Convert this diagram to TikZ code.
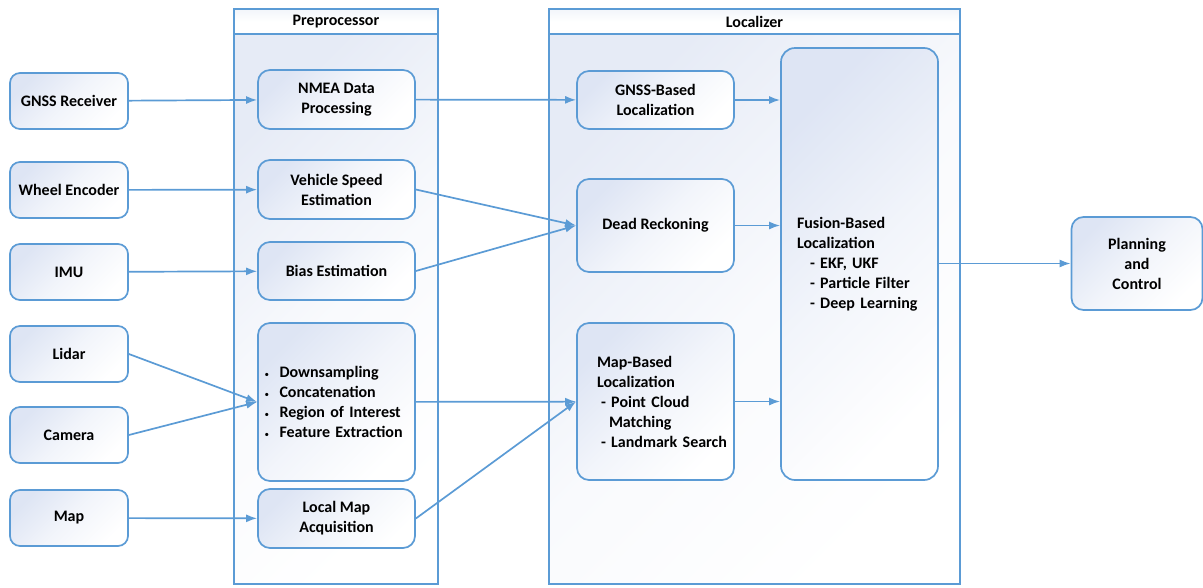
\documentclass[tikz,border=0pt]{standalone}
\usepackage{fontspec}
\setmainfont{Carlito}
\usetikzlibrary{arrows.meta, positioning}
\definecolor{linkblue}{RGB}{91,155,213}
\definecolor{shadetop}{RGB}{222,229,244}
\definecolor{groupshade}{RGB}{230,235,246}

\begin{document}
\begin{tikzpicture}[x=1pt, y=-1pt,
		font=\fontsize{16}{20}\selectfont\bfseries,
		box/.style={rectangle, rounded corners=12pt, draw=linkblue, line width=1.7pt, top color=shadetop, bottom color=white, middle color=white!60!shadetop, shading angle=45, minimum width=157pt, align=center, inner sep=0pt},
		inbox/.style={box, rounded corners=10pt, minimum width=118pt, minimum height=56pt},
		group/.style={rectangle, draw=linkblue, line width=1.7pt, top color=groupshade, bottom color=white, middle color=white!75!groupshade, shading angle=45, inner sep=0pt},
		grouptitle/.style={group, top color=groupshade!50, bottom color=white, middle color=white, minimum height=25pt},
		arrow/.style={-{Latex[length=11pt,width=8pt]}, linkblue, line width=1.7pt}
		]
		\useasboundingbox (0,0) rectangle (1203,587);
		
		% containers
		\node[group, minimum width=204pt, minimum height=550pt] (prebody) at (336,309) {};
		\node[grouptitle, minimum width=204pt] (pretitle) at (336,21.5) {Preprocessor};
		\node[group, minimum width=411pt, minimum height=550pt] (locbody) at (754.5,309) {};
		\node[grouptitle, minimum width=411pt] (loctitle) at (754.5,21.5) {Localizer};
		
		% sensors
		\node[inbox] (gnss) at (69,101) {GNSS Receiver};
		\node[inbox] (wheel) at (69,190) {Wheel Encoder};
		\node[inbox] (imu) at (69,272) {IMU};
		\node[inbox] (lidar) at (69,354) {Lidar};
		\node[inbox] (camera) at (69,435) {Camera};
		\node[inbox] (map) at (69,518) {Map};
		
		% preprocessor
		\node[box, minimum height=59pt] (nmea) at (336.5,99.5) {NMEA Data\\Processing};
		\node[box, minimum height=59pt] (speed) at (336.5,189.5) {Vehicle Speed\\Estimation};
		\node[box, minimum height=58pt] (bias) at (336.5,271) {Bias Estimation};
		\node[box, minimum height=158pt, text width=150pt, align=left] (prep) at (336.5,402)
			{\makebox[18pt][l]{\hspace{3pt}\normalfont\small\textbullet}Downsampling\\
			 \makebox[18pt][l]{\hspace{3pt}\normalfont\small\textbullet}Concatenation\\
			 \makebox[18pt][l]{\hspace{3pt}\normalfont\small\textbullet}Region of Interest\\
			 \makebox[18pt][l]{\hspace{3pt}\normalfont\small\textbullet}Feature Extraction};
		\node[box, minimum height=59pt] (localmap) at (336.5,518.5) {Local Map\\Acquisition};
		
		% localizer
		\node[box, minimum height=58pt] (gnssloc) at (655.5,100) {GNSS-Based\\Localization};
		\node[box, minimum height=93pt] (dead) at (655.5,225.5) {Dead Reckoning};
		\node[box, minimum height=157pt, text width=117pt, align=left] (mapbased) at (655.5,401.5)
			{Map-Based\\Localization\\
			 \mbox{\hspace*{4pt}- Point Cloud}\\
			 \mbox{\hspace*{12pt}Matching}\\
			 \mbox{\hspace*{4pt}- Landmark Search}};
		\node[box, rounded corners=14pt, minimum height=432pt, text width=125pt, align=left] (fusion) at (859.5,264)
			{Fusion-Based\\Localization\\
			 \mbox{\hspace*{13pt}- EKF, UKF}\\
			 \mbox{\hspace*{13pt}- Particle Filter}\\
			 \mbox{\hspace*{13pt}- Deep Learning}};
		
		\node[box, minimum width=131pt, minimum height=93pt] (plan) at (1137,263.5) {Planning\\and\\Control};
		
		% connections
		\draw[arrow] (gnss) -- (nmea);
		\draw[arrow] (wheel) -- (speed);
		\draw[arrow] (imu) -- (bias);
		\draw[arrow] (lidar.east) -- (prep.west);
		\draw[arrow] (camera.east) -- (prep.west);
		\draw[arrow] (map) -- (localmap);
		
		\draw[arrow] (nmea) -- (gnssloc);
		\draw[arrow] (speed.east) -- (dead.west);
		\draw[arrow] (bias.east) -- (dead.west);
		\draw[arrow] (prep) -- (mapbased);
		\draw[arrow] (localmap.east) -- (mapbased.west);
		
		\draw[arrow] (gnssloc) -- (gnssloc -| fusion.west);
		\draw[arrow] (dead) -- (dead -| fusion.west);
		\draw[arrow] (mapbased) -- (mapbased -| fusion.west);
		\draw[arrow] (fusion.east |- plan.west) -- (plan.west);
		
	\end{tikzpicture}
\end{document}
